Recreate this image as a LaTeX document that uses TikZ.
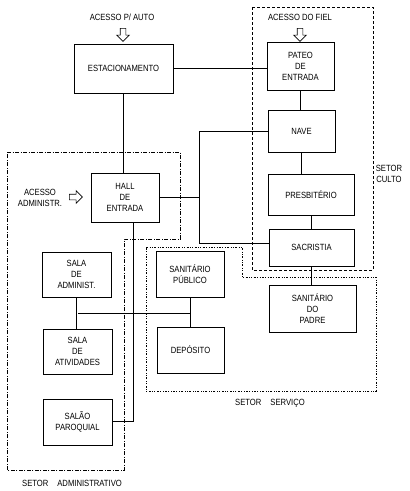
\documentclass[tikz,border=0pt]{standalone}
\usepackage{fontspec}
\setmainfont{Liberation Sans}[FakeStretch=0.85]
\usetikzlibrary{shapes.arrows}
\begin{document}
\begin{tikzpicture}[x=1pt, y=-1pt, line width=0.8pt,
  room/.style={draw, rectangle, align=center, inner sep=0pt,
    font=\fontsize{9}{11}\selectfont},
  lbl/.style={align=center, inner sep=1pt, font=\fontsize{9}{11}\selectfont},
  accarrow/.style={draw, single arrow, minimum height=13pt, inner sep=2.5pt,
    single arrow head extend=3.5pt, line width=0.6pt},
  culto/.style={line width=0.6pt, dash pattern=on 3pt off 2pt},
  admin/.style={line width=0.6pt, dash pattern=on 4pt off 1.5pt on 1pt off 1.5pt},
  servico/.style={line width=0.6pt, dash pattern=on 2pt off 1.5pt on 0.8pt off 1.5pt on 0.8pt off 1.5pt}]
  \useasboundingbox (0,0) rectangle (410,491);
  % setores
  \draw[culto] (252,7) rectangle (373,270);
  \draw[admin] (7,152) -- (180,152) -- (180,239) -- (124,239) -- (124,470) -- (7,470) -- cycle;
  \draw[servico] (146,247) -- (242,247) -- (242,277) -- (376,277) -- (376,391) -- (146,391) -- cycle;
  % ambientes
  \node[room, minimum width=99pt, minimum height=49pt] (est) at (123.5,68.5) {ESTACIONAMENTO};
  \node[room, minimum width=67pt, minimum height=48pt] (pateo) at (300.5,66) {PATEO\\DE\\ENTRADA};
  \node[room, minimum width=67pt, minimum height=42pt] (nave) at (301.5,131) {NAVE};
  \node[room, minimum width=86pt, minimum height=41pt] (presb) at (311,194.5) {PRESBITÉRIO};
  \node[room, minimum width=85pt, minimum height=37pt] (sacr) at (311.5,247.5) {SACRISTIA};
  \node[room, minimum width=87pt, minimum height=47pt] (sanpad) at (312.5,308.5) {SANITÁRIO\\DO\\PADRE};
  \node[room, minimum width=68pt, minimum height=49pt] (hall) at (125,197.5) {HALL\\DE\\ENTRADA};
  \node[room, minimum width=68pt, minimum height=46pt] (sanpub) at (190,274) {SANITÁRIO\\PÚBLICO};
  \node[room, minimum width=67pt, minimum height=46pt] (depo) at (190.5,350) {DEPÓSITO};
  \node[room, minimum width=69pt, minimum height=45pt] (salaadm) at (76.5,274.5) {SALA\\DE\\ADMINIST.};
  \node[room, minimum width=69pt, minimum height=45pt] (salaativ) at (77.5,351.5) {SALA\\DE\\ATIVIDADES};
  \node[room, minimum width=69pt, minimum height=46pt] (salao) at (77.5,422) {SALÃO\\PAROQUIAL};
  % acessos
  \node[lbl] (acauto) at (122,17) {ACESSO P/ AUTO};
  \node[accarrow, shape border rotate=270] (arrauto) at (123,33.5) {};
  \node[lbl] (acfiel) at (300,17) {ACESSO DO FIEL};
  \node[accarrow, shape border rotate=270] (arrfiel) at (300,33.5) {};
  \node[lbl] (acadm) at (40,197.5) {ACESSO\\ADMINISTR.};
  \node[accarrow] (arradm) at (74.5,197) {};
  % nomes dos setores
  \node[lbl] (setculto) at (389,173.5) {SETOR\\CULTO};
  \node[lbl] (setserv) at (270,403) {SETOR\quad SERVIÇO};
  \node[lbl] (setadm) at (72,483) {SETOR\quad ADMINISTRATIVO};
  % ligacoes
  \coordinate (sacrjoint) at (199,243);
  \coordinate (halljoint) at (133,421);
  \coordinate (admjoint) at (78,313);
  \draw (est.east) -- (est.east -| pateo.west);
  \draw (pateo.south) -- (pateo.south |- nave.north);
  \draw (nave.south) -- (nave.south |- presb.north);
  \draw (presb.south) -- (presb.south |- sacr.north);
  \draw (sacr.south) -- (sacr.south |- sanpad.north);
  \draw (nave.west) -| (sacrjoint) -- (sacrjoint -| sacr.west);
  \draw (hall.east) -- (hall.east -| sacrjoint);
  \draw (est.south) -- (est.south |- hall.north);
  \draw (hall.south -| halljoint) -- (halljoint) -- (halljoint -| salao.east);
  \draw (salaadm.south) -- (salaadm.south |- salaativ.north);
  \draw (sanpub.south) -- (sanpub.south |- depo.north);
  \draw (admjoint) -- (admjoint -| sanpub.south);
\end{tikzpicture}
\end{document}
